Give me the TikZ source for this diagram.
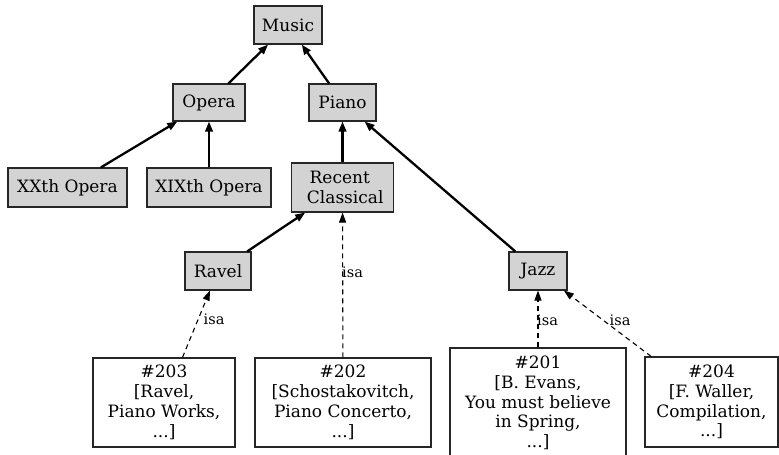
\documentclass[tikz,border=0pt]{standalone}
\usepackage{fontspec}
\setmainfont{DejaVu Serif}
\usetikzlibrary{arrows.meta}
\definecolor{boxgray}{HTML}{D3D3D3}
\tikzset{
  cat/.style={draw=black!85, line width=1.1pt, fill=boxgray, inner sep=0pt, align=center,
    font=\fontsize{17}{20}\selectfont},
  item/.style={draw=black!85, line width=1.1pt, fill=white, inner sep=0pt, align=center,
    font=\fontsize{17}{19.8}\selectfont},
  isaedge/.style={line width=1.1pt, dash pattern=on 5pt off 4pt,
    -{Triangle[length=10pt,width=7pt]}},
  subedge/.style={line width=2.3pt, -{Triangle[length=10pt,width=7.5pt]}},
  lbl/.style={font=\fontsize{14.5}{16}\selectfont, inner sep=0pt, anchor=west}
}
\begin{document}
\begin{tikzpicture}[x=1pt,y=-1pt]
\useasboundingbox (0,0) rectangle (779,455);
\node[cat, minimum width=68pt, minimum height=38pt] (music) at (288,25) {Music};
\node[cat, minimum width=72pt, minimum height=37pt] (opera) at (209,102.5) {Opera};
\node[cat, minimum width=67pt, minimum height=37pt] (piano) at (342.5,102.5) {Piano};
\node[cat, minimum width=119pt, minimum height=39pt] (xx) at (67.5,187.5) {XXth Opera};
\node[cat, minimum width=124pt, minimum height=39pt] (xix) at (209,187.5) {XIXth Opera};
\node[cat, minimum width=102pt, minimum height=49pt] (recent) at (342.5,187.5) {Recent\kern0.32em\\\kern0.32em Classical};
\node[cat, minimum width=66pt, minimum height=38pt] (ravel) at (218,271) {Ravel};
\node[cat, minimum width=58pt, minimum height=38pt] (jazz) at (538,271) {Jazz};
\node[item, minimum width=142pt, minimum height=89pt] (n203) at (164,402.5) {\#203\\ {[}Ravel,\\ Piano Works,\\ ...{]}};
\node[item, minimum width=176pt, minimum height=89pt] (n202) at (343,402.5) {\#202\\ {[}Schostakovitch,\\ Piano Concerto,\\ ...{]}};
\node[item, minimum width=176pt, minimum height=110pt] (n201) at (538,403) {\#201\\ {[}B. Evans,\\ You must believe\\ in Spring,\\ ...{]}};
\node[item, minimum width=133pt, minimum height=90pt] (n204) at (711.5,402) {\#204\\ {[}F. Waller,\\ Compilation,\\ ...{]}};

\draw[subedge] (opera) -- (music);
\draw[subedge] (piano) -- (music);
\draw[subedge] (xx) -- (opera);
\draw[subedge] (xix) -- (opera);
\draw[subedge] (recent) -- (piano);
\draw[subedge] (jazz) -- (piano);
\draw[subedge] (ravel) -- (recent);

\draw[isaedge] (n203) -- (ravel);
\draw[isaedge] (n202) -- (recent);
\draw[isaedge] (n201) -- (jazz);
\draw[isaedge] (n204) -- (jazz);

\node[lbl] (l203) at (203.5,319.5) {isa};
\node[lbl] (l202) at (342,272) {isa};
\node[lbl] (l201) at (537,320) {isa};
\node[lbl] (l204) at (609.5,320) {isa};
\end{tikzpicture}
\end{document}
